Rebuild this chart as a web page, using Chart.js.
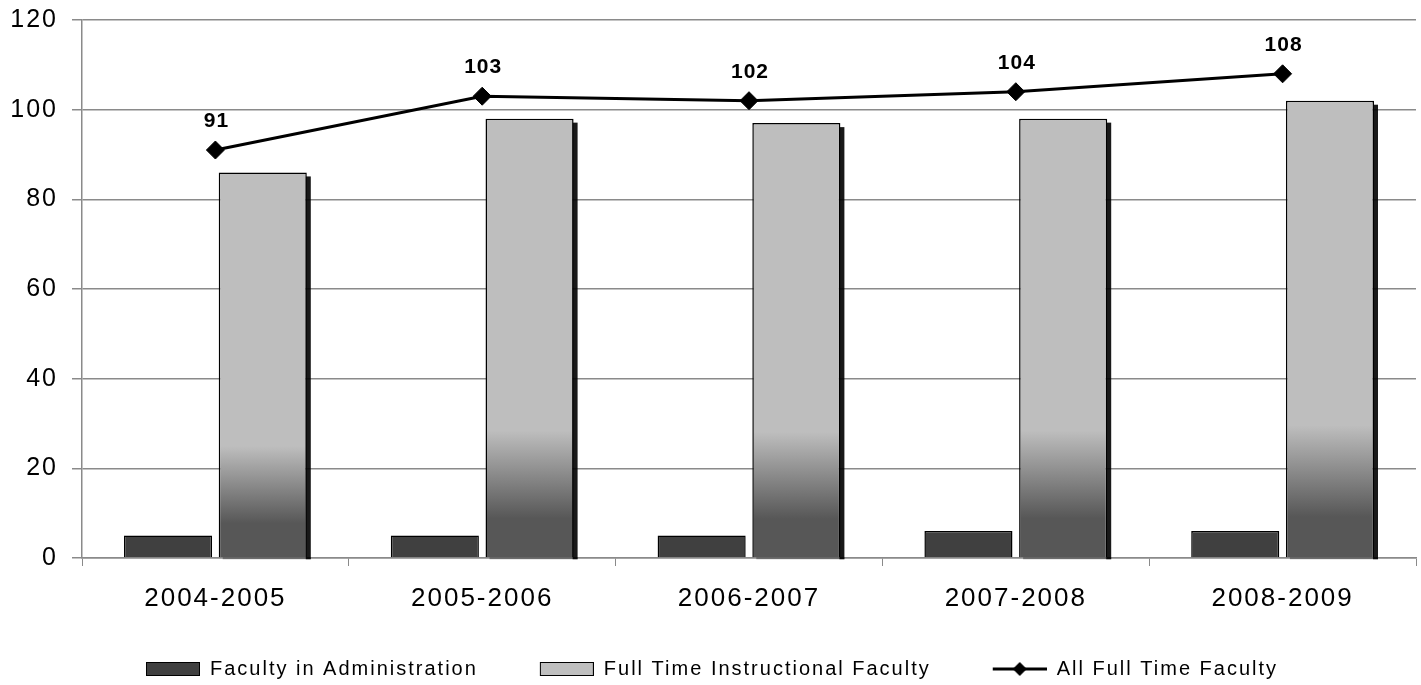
<!DOCTYPE html>
<html>
<head>
<meta charset="utf-8">
<script src="https://cdn.jsdelivr.net/npm/chart.js@4/dist/chart.umd.min.js"></script>
<style>
  html, body { margin: 0; padding: 0; background: #fff; }
  #wrap { width: 1421px; height: 685px; }
</style>
</head>
<body>
<div id="wrap"><canvas id="chart" width="1421" height="685"></canvas></div>
<script>
// Data
const years = ['2004-2005', '2005-2006', '2006-2007', '2007-2008', '2008-2009'];
const adminFaculty = [5, 5, 5, 6, 6];
const instructionalFaculty = [86, 98, 97, 98, 102];
const allFaculty = [91, 103, 102, 104, 108];
const yTicks = [0, 20, 40, 60, 80, 100, 120];

const FONT = '"Liberation Sans", Arial, sans-serif';
const GRID = '#8a8a8a';

// gradient for the light bars: dark at the foot, light from ~30% up
function instrFill(c) {
  const chart = c.chart;
  if (c.type !== 'data' || !chart.chartArea) return '#bfbfbf';
  const y = chart.scales.y;
  const top = y.getPixelForValue(c.parsed.y);
  const bottom = y.getPixelForValue(0);
  const g = chart.ctx.createLinearGradient(0, bottom, 0, top);
  g.addColorStop(0, '#575757');
  g.addColorStop(0.09, '#575757');
  g.addColorStop(0.29, '#bebebe');
  g.addColorStop(1, '#bebebe');
  return g;
}

// legend glyphs (blank lead on the left makes the gap between items)
const LEAD = 58;
function boxIcon(fill) {
  const c = document.createElement('canvas');
  c.width = LEAD + 54; c.height = 14;
  const g = c.getContext('2d');
  g.fillStyle = fill;
  g.fillRect(LEAD + 0.5, 0.5, 53, 13);
  g.strokeStyle = '#000';
  g.lineWidth = 1;
  g.strokeRect(LEAD + 0.5, 0.5, 53, 13);
  return c;
}
function lineIcon() {
  const c = document.createElement('canvas');
  c.width = LEAD + 54; c.height = 16;
  const g = c.getContext('2d');
  g.strokeStyle = '#000';
  g.lineWidth = 3;
  g.beginPath(); g.moveTo(LEAD, 8); g.lineTo(LEAD + 54, 8); g.stroke();
  const cx = LEAD + 27;
  g.fillStyle = '#000';
  g.beginPath(); g.moveTo(cx - 7, 8); g.lineTo(cx, 1); g.lineTo(cx + 7, 8); g.lineTo(cx, 15); g.closePath(); g.fill();
  return c;
}
const icons = [boxIcon('#404040'), boxIcon('#bfbfbf'), lineIcon()];

// Excel text is set a little wide
const spacing = {
  id: 'spacing',
  beforeUpdate(chart) { chart.ctx.letterSpacing = '2px'; },
  beforeDraw(chart) { chart.ctx.letterSpacing = '2px'; },
  // the first item's blank lead should not count when centring the row
  afterLayout(chart) {
    if (chart.legend && chart.legend.lineWidths) chart.legend.lineWidths[0] += LEAD - 8;
  }
};

// drop shadow behind the light bars, taken from the bar elements
const barShadow = {
  id: 'barShadow',
  beforeDatasetDraw(chart, args) {
    if (args.index !== 1) return;
    const ctx = chart.ctx;
    ctx.save();
    args.meta.data.forEach(el => {
      const right = el.x + el.width / 2;
      const left = el.x - el.width / 2;
      ctx.fillStyle = 'rgba(0,0,0,0.9)';
      ctx.fillRect(right - 1, el.y + 4, 5, el.base - el.y - 2);
      ctx.fillStyle = 'rgba(0,0,0,0.35)';
      ctx.fillRect(left + 4, el.base, el.width, 2);
    });
    ctx.restore();
  }
};

// value labels above the line points
const lineLabels = {
  id: 'lineLabels',
  afterDatasetsDraw(chart) {
    const meta = chart.getDatasetMeta(2);
    const ctx = chart.ctx;
    ctx.save();
    ctx.letterSpacing = '1px';
    ctx.font = 'bold 21px ' + FONT;
    ctx.fillStyle = '#000';
    ctx.textAlign = 'center';
    ctx.textBaseline = 'alphabetic';
    meta.data.forEach((pt, i) => {
      ctx.fillText(String(allFaculty[i]), pt.x + 1, pt.y - 23);
    });
    ctx.restore();
  }
};

new Chart(document.getElementById('chart'), {
  data: {
    labels: years,
    datasets: [
      {
        type: 'bar',
        label: 'Faculty in Administration',
        data: adminFaculty,
        backgroundColor: '#404040',
        borderColor: '#000',
        borderWidth: 1.5,
        categoryPercentage: 0.71,
        barPercentage: 0.93,
        order: 1
      },
      {
        type: 'bar',
        label: 'Full Time Instructional Faculty',
        data: instructionalFaculty,
        backgroundColor: instrFill,
        borderColor: '#000',
        borderWidth: 1.5,
        categoryPercentage: 0.71,
        barPercentage: 0.93,
        order: 1
      },
      {
        type: 'line',
        label: 'All Full Time Faculty',
        data: allFaculty,
        borderColor: '#000',
        borderWidth: 3,
        pointStyle: 'rectRot',
        pointRadius: 9,
        pointBackgroundColor: '#000',
        pointBorderColor: '#000',
        pointBorderWidth: 1,
        tension: 0,
        clip: false,
        order: 0
      }
    ]
  },
  options: {
    responsive: false,
    animation: false,
    devicePixelRatio: 1,
    layout: { autoPadding: false, padding: { top: 0, right: 5, left: 0, bottom: -4 } },
    plugins: {
      tooltip: { enabled: false },
      legend: {
        position: 'bottom',
        labels: {
          usePointStyle: true,
          pointStyleWidth: LEAD + 54,
          boxHeight: 14,
          padding: 4,
          color: '#000',
          font: { family: FONT, size: 20 },
          generateLabels(chart) {
            return chart.data.datasets.map((ds, i) => ({
              text: ds.label,
              pointStyle: icons[i],
              fillStyle: '#000',
              strokeStyle: '#000',
              lineWidth: 0,
              hidden: false,
              datasetIndex: i
            }));
          }
        }
      }
    },
    scales: {
      x: {
        offset: true,
        grid: {
          offset: true,
          drawOnChartArea: false,
          drawTicks: true,
          tickLength: 8,
          color: GRID
        },
        border: { display: true, color: GRID, width: 1.5 },
        ticks: {
          color: '#000',
          padding: 17,
          font: { family: FONT, size: 26 }
        },
        afterFit(scale) {
          scale.height = 97;
          scale.paddingLeft = 0;
          scale.paddingRight = 0;
        }
      },
      y: {
        min: 0,
        max: 120,
        afterBuildTicks(scale) { scale.ticks = yTicks.map(v => ({ value: v })); },
        grid: {
          color: GRID,
          lineWidth: 1.5,
          tickLength: 10
        },
        border: { display: true, color: GRID, width: 1.5 },
        ticks: {
          color: '#000',
          padding: 14,
          font: { family: FONT, size: 25 }
        },
        afterFit(scale) {
          scale.width = 82;
          scale.paddingTop = 20;
          scale.paddingBottom = 0;
        }
      }
    }
  },
  plugins: [spacing, barShadow, lineLabels]
});
</script>
</body>
</html>
